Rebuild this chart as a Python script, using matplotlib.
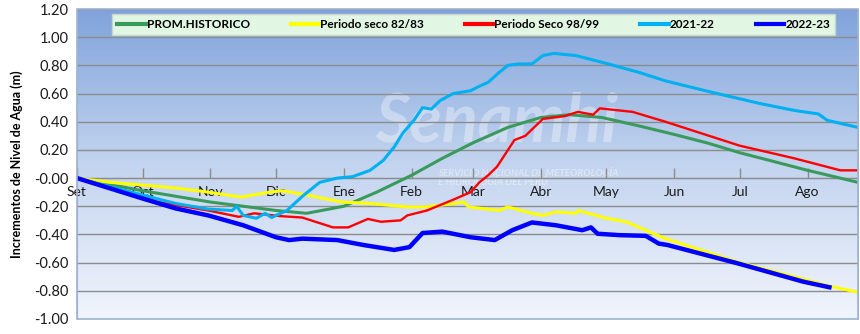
import numpy as np
import matplotlib.pyplot as plt
from matplotlib.patches import Rectangle
from matplotlib.colors import LinearSegmentedColormap

plt.rcParams['font.family'] = ['Lato', 'DejaVu Sans']

# Datos (día desde el 1 de setiembre, incremento en m)
meses = ['Set', 'Oct', 'Nov', 'Dic', 'Ene', 'Feb', 'Mar', 'Abr', 'May', 'Jun', 'Jul', 'Ago']
dia_mes = [0, 30, 61, 91, 122, 153, 181, 212, 242, 273, 303, 334]

prom_dias = [0, 30, 61, 91, 105, 122, 137, 153, 167, 181, 197, 212, 225, 240, 257, 273, 288, 303, 318, 334, 357]
prom_vals = [0, -0.09, -0.17, -0.23, -0.25, -0.20, -0.10, 0.02, 0.14, 0.25, 0.36, 0.43, 0.45, 0.43, 0.37,
             0.31, 0.25, 0.18, 0.12, 0.055, -0.03]

seco83_dias = [0, 15, 30, 45, 60, 75, 88, 94, 105, 121, 134, 151, 160, 177, 179, 193, 197, 208, 213, 219,
               228, 229, 242, 251, 260, 269, 302, 345, 357]
seco83_vals = [0, -0.03, -0.05, -0.07, -0.10, -0.135, -0.10, -0.09, -0.12, -0.17, -0.18, -0.205, -0.205,
               -0.17, -0.205, -0.23, -0.205, -0.25, -0.265, -0.24, -0.25, -0.23, -0.285, -0.31, -0.37,
               -0.43, -0.595, -0.77, -0.81]

seco99_dias = [0, 22, 37, 60, 74, 81, 93, 103, 117, 124, 133, 139, 148, 151, 160, 171, 180, 184, 188, 192,
               200, 205, 213, 223, 229, 236, 239, 254, 269, 279, 303, 328, 349, 357]
seco99_vals = [0, -0.09, -0.17, -0.23, -0.275, -0.25, -0.27, -0.28, -0.35, -0.35, -0.29, -0.31, -0.30,
               -0.265, -0.23, -0.16, -0.10, -0.03, 0.02, 0.08, 0.27, 0.30, 0.42, 0.44, 0.47, 0.45, 0.495,
               0.47, 0.40, 0.35, 0.23, 0.14, 0.055, 0.055]

a2122_dias = [0, 30, 45, 60, 71, 73, 76, 82, 86, 89, 91, 96, 103, 111, 119, 126, 134, 140, 145, 149, 154,
              158, 162, 166, 172, 180, 183, 188, 193, 197, 202, 208, 213, 218, 228, 243, 257, 269, 290,
              312, 328, 339, 343, 357]
a2122_vals = [0, -0.12, -0.18, -0.22, -0.23, -0.20, -0.265, -0.285, -0.25, -0.28, -0.265, -0.23, -0.13,
              -0.03, 0.0, 0.01, 0.055, 0.125, 0.22, 0.32, 0.41, 0.50, 0.49, 0.55, 0.60, 0.62, 0.645, 0.68,
              0.75, 0.80, 0.81, 0.81, 0.87, 0.885, 0.87, 0.81, 0.75, 0.69, 0.61, 0.53, 0.48, 0.455, 0.41,
              0.36]

a2223_dias = [0, 30, 45, 60, 76, 91, 97, 103, 119, 131, 145, 152, 158, 167, 180, 191, 199, 208, 219, 231,
              235, 238, 248, 260, 266, 270, 302, 332, 344]
a2223_vals = [0, -0.145, -0.215, -0.265, -0.335, -0.42, -0.44, -0.43, -0.44, -0.475, -0.51, -0.49, -0.39,
              -0.38, -0.42, -0.44, -0.37, -0.315, -0.335, -0.37, -0.35, -0.395, -0.405, -0.41, -0.465,
              -0.475, -0.605, -0.735, -0.775]

fig = plt.figure(figsize=(8.6, 3.34), dpi=100)
ax = fig.add_axes([0.0895, 0.045, 0.908, 0.928])

xmax = 357
ax.set_xlim(0, xmax)
ax.set_ylim(-1.0, 1.2)

# fondo degradado
grad = np.linspace(0, 1, 256).reshape(-1, 1)
cmap = LinearSegmentedColormap.from_list('fondo', ['#f1f5fc', '#c3d4ef', '#80a3db'])
ax.imshow(grad, extent=[0, xmax, -1.0, 1.2], origin='lower', aspect='auto', cmap=cmap, zorder=0)

# marca de agua
ax.text(192, 0.40, 'Senamhi', fontsize=48, fontweight='bold', style='italic', color='white',
        alpha=0.35, ha='center', va='center', zorder=1)
ax.text(165, 0.0, 'SERVICIO NACIONAL DE METEOROLOGÍA\nE HIDROLOGÍA DEL PERÚ', fontsize=7,
        fontweight='bold', style='italic', color='white', alpha=0.4, ha='left', va='center',
        linespacing=1.1, zorder=1)

ax.set_yticks(np.arange(-1.0, 1.21, 0.2))
ax.yaxis.grid(True, color='#8c8c8c', linewidth=1.0, zorder=1)
ax.set_axisbelow(False)

ax.plot(prom_dias, prom_vals, color='#3a9a5c', lw=2.2, label='PROM.HISTORICO', zorder=3)
ax.plot(seco83_dias, seco83_vals, color='#ffff00', lw=2.2, label='Periodo seco 82/83', zorder=3)
ax.plot(seco99_dias, seco99_vals, color='#ff0000', lw=1.7, label='Periodo Seco 98/99', zorder=3)
ax.plot(a2122_dias, a2122_vals, color='#00b0f0', lw=2.2, label='2021-22', zorder=3)
ax.plot(a2223_dias, a2223_vals, color='#0000ff', lw=3.2, label='2022-23', zorder=4)

ax.set_xticks(dia_mes)
ax.set_xticklabels(meses)
ax.spines['bottom'].set_position(('data', 0))
ax.spines['bottom'].set_color('#8c8c8c')
ax.tick_params(axis='x', direction='in', length=7, width=1, color='#8c8c8c', pad=6,
               labelsize=10, labelcolor='#1a1a1a')
ax.tick_params(axis='y', length=0, labelsize=10.5, pad=6, labelcolor='#1a1a1a')
ax.yaxis.set_major_formatter(plt.FuncFormatter(lambda v, p: f'{v:.2f}'))
for s in ['top', 'right', 'left']:
    ax.spines[s].set_color('#9fb3d3')
ax.add_patch(Rectangle((0, 0), 1, 1, transform=ax.transAxes, fill=False,
                       edgecolor='#9fb3d3', lw=1.2, zorder=5, clip_on=False))

ax.set_ylabel('Incrementos de Nivel de Agua (m)', fontsize=9, fontweight='bold', labelpad=8)

leg = ax.legend(loc='upper left', bbox_to_anchor=(0.045, 0.985, 0.926, 0.0), mode='expand',
                ncol=5, frameon=True, fancybox=False, facecolor='#e2f6e4', edgecolor='#c7d7cc',
                framealpha=1, prop={'weight': 'bold', 'size': 8.5}, handlelength=2.4,
                handletextpad=0.1, borderpad=0.45, borderaxespad=0)
for line in leg.get_lines():
    line.set_linewidth(3)

plt.savefig('out.png', dpi=100)
